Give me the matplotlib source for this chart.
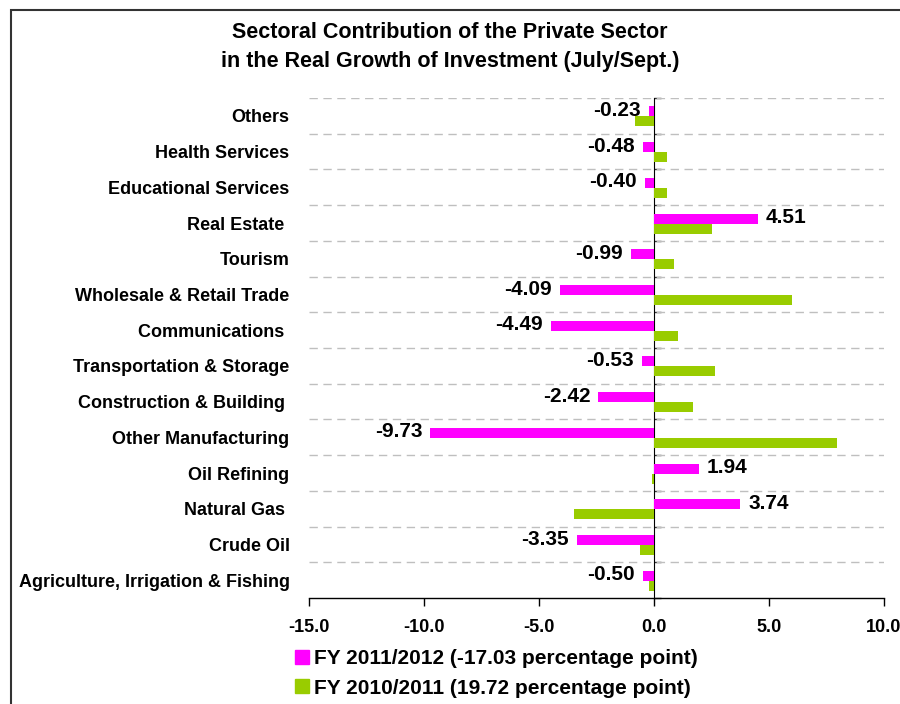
import numpy as np
import matplotlib
matplotlib.use("Agg")
import matplotlib.pyplot as plt
from matplotlib.lines import Line2D
from matplotlib.patches import Rectangle

plt.rcParams['font.family'] = ['Liberation Sans', 'DejaVu Sans']
plt.rcParams['font.weight'] = 'bold'

# sectors listed top to bottom as drawn
sectors = ["Others", "Health Services", "Educational Services", "Real Estate ",
           "Tourism", "Wholesale & Retail Trade", "Communications ",
           "Transportation & Storage", "Construction & Building ",
           "Other Manufacturing", "Oil Refining", "Natural Gas ", "Crude Oil",
           "Agriculture, Irrigation & Fishing"]
fy_2011_12 = [-0.23, -0.48, -0.40, 4.51, -0.99, -4.09, -4.49, -0.53, -2.42,
              -9.73, 1.94, 3.74, -3.35, -0.50]
fy_2010_11 = [-0.83, 0.58, 0.58, 2.51, 0.86, 5.98, 1.03, 2.64, 1.69,
              7.94, -0.07, -3.47, -0.61, -0.22]
label_12 = "FY 2011/2012 (-17.03 percentage point)"
label_11 = "FY 2010/2011 (19.72 percentage point)"
xticks = [-15.0, -10.0, -5.0, 0.0, 5.0, 10.0]

MAGENTA = "#FF00FF"
GREEN = "#99CC00"

fig = plt.figure(figsize=(9, 7.04), dpi=100)
ax = fig.add_axes([309 / 900, 1 - 598 / 704, 575 / 900, 500 / 704])

y = np.arange(len(sectors))
h = 0.28
ax.barh(y - 0.125, fy_2011_12, height=h, color=MAGENTA, zorder=3)
ax.barh(y + 0.155, fy_2010_11, height=h, color=GREEN, zorder=3)

# value labels on the 2011/2012 bars
for yi, v in zip(y, fy_2011_12):
    off = 0.35 if v >= 0 else -0.35
    ax.text(v + off, yi - 0.15, "%.2f" % v, ha="left" if v >= 0 else "right",
            va="center", fontsize=15, fontweight="bold", zorder=4)

ax.set_xlim(-15, 10)
ax.set_ylim(len(sectors) - 0.5, -0.5)
ax.set_xticks(xticks)
ax.set_xticklabels(["%.1f" % t for t in xticks], fontsize=13, fontweight="bold")
ax.tick_params(axis="x", direction="out", length=6, width=1, pad=9)

ax.set_yticks(y)
ax.set_yticklabels(sectors, fontsize=13, fontweight="bold")
ax.tick_params(axis="y", length=0, pad=14)

# dashed separators between categories
for b in np.arange(len(sectors)) - 0.5:
    ax.axhline(b, color="#BFBFBF", lw=1, ls=(0, (6, 4)), zorder=1)

for s in ["top", "right", "left"]:
    ax.spines[s].set_visible(False)
ax.spines["bottom"].set_linewidth(1)

# category axis sits on the zero line
zero_ax = ax.secondary_yaxis(0.6)
zero_ax.set_yticks(np.arange(len(sectors) + 1) - 0.5)
zero_ax.set_yticklabels([])
zero_ax.tick_params(axis="y", direction="out", length=5, width=1, color="#333333")
zero_ax.spines["left"].set_color("#808080")
zero_ax.spines["left"].set_linewidth(1.5)

fig.text(0.5, 1 - 47 / 704,
         "Sectoral Contribution of the Private Sector\nin the Real Growth of Investment (July/Sept.)",
         ha="center", va="center", fontsize=15.5, fontweight="bold", linespacing=1.45)

handles = [Line2D([], [], marker="s", ls="none", color=MAGENTA, markersize=9.5),
           Line2D([], [], marker="s", ls="none", color=GREEN, markersize=9.5)]
fig.legend(handles, [label_12, label_11], loc="upper left",
           bbox_to_anchor=(284 / 900, 1 - 641 / 704), frameon=False,
           prop={"size": 15, "weight": "bold"}, handletextpad=0.15,
           handlelength=0.9, labelspacing=0.5, borderaxespad=0)

# outer frame
fig.patches.append(Rectangle((11 / 900, -0.1), 1.2, 1 - 10 / 704 + 0.1,
                             transform=fig.transFigure, fill=False,
                             edgecolor="#333333", lw=1.5))

fig.savefig("out.png", dpi=100)
